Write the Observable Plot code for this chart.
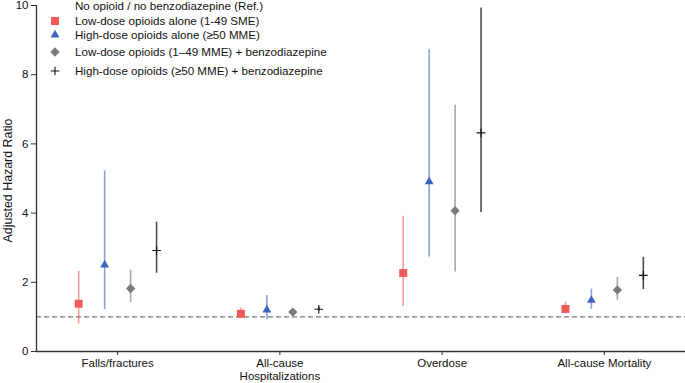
<!DOCTYPE html>
<html>
<head>
<meta charset="utf-8">
<script src="https://cdn.jsdelivr.net/npm/d3@7"></script>
<script src="https://cdn.jsdelivr.net/npm/@observablehq/plot@0.6"></script>
<style>
  html, body { margin: 0; padding: 0; background: #fff; }
  #wrap { position: relative; width: 685px; height: 383px; font-family: "Liberation Sans", Arial, sans-serif; }
  #legend { position: absolute; left: 0; top: 0; font-size: 11.6px; color: #111; }
  .row { position: absolute; white-space: nowrap; }
  .row svg { position: absolute; overflow: visible; }
</style>
</head>
<body>
<div id="wrap"></div>
<script>
const categories = ["Falls/fractures", "All-cause\nHospitalizations", "Overdose", "All-cause Mortality"];
const groups = [
  "Low-dose opioids alone (1-49 SME)",
  "High-dose opioids alone (\u226550 MME)",
  "Low-dose opioids (1\u201349 MME) + benzodiazepine",
  "High-dose opioids (\u226550 MME) + benzodiazepine"
];
const refLabel = "No opioid / no benzodiazepine (Ref.)";
const yTicks = [0, 2, 4, 6, 8, 10];
const yLabel = "Adjusted Hazard Ratio";

const lowAloneHR = [1.38, 1.09, 2.27, 1.23];
const lowAloneLo = [0.80, 0.95, 1.30, 1.09];
const lowAloneHi = [2.32, 1.26, 3.91, 1.43];

const highAloneHR = [2.50, 1.20, 4.91, 1.48];
const highAloneLo = [1.21, 0.92, 2.73, 1.22];
const highAloneHi = [5.22, 1.62, 8.73, 1.80];

const lowBenzoHR = [1.82, 1.14, 4.07, 1.78];
const lowBenzoLo = [1.41, 1.07, 2.30, 1.48];
const lowBenzoHi = [2.35, 1.21, 7.12, 2.14];

const highBenzoHR = [2.92, 1.22, 6.32, 2.20];
const highBenzoLo = [2.26, 1.16, 4.02, 1.79];
const highBenzoHi = [3.74, 1.28, 9.93, 2.72];

const refValue = 1;

// styles
const colors = ["#f25a5a", "#3f63c0", "#7a7a7a", "#111111"];
const ciOpacity = [0.6, 0.6, 0.65, 0.75];
const symbols = ["square", "triangle", "diamond2", "plus"];
const radii = [4.5, 3.3, 4.2, 2.9];

const series = [
  [lowAloneHR, lowAloneLo, lowAloneHi],
  [highAloneHR, highAloneLo, highAloneHi],
  [lowBenzoHR, lowBenzoLo, lowBenzoHi],
  [highBenzoHR, highBenzoLo, highBenzoHi]
];
const data = [];
series.forEach(([hr, lo, hi], g) => {
  categories.forEach((c, i) => {
    data.push({g, cat: i, x: i + (g - 1.5) * 0.16, hr: hr[i], lo: lo[i], hi: hi[i]});
  });
});

const marks = [
  Plot.ruleY([refValue], {stroke: "#777", strokeWidth: 1.2, strokeDasharray: "5,3"}),
];
for (let g = 0; g < 4; g++) {
  const d = data.filter(r => r.g === g);
  marks.push(Plot.ruleX(d, {x: "x", y1: "lo", y2: "hi", stroke: colors[g], strokeOpacity: ciOpacity[g], strokeWidth: 1.6}));
}
for (let g = 0; g < 4; g++) {
  const d = data.filter(r => r.g === g);
  if (symbols[g] === "plus") {
    marks.push(Plot.dot(d, {x: "x", y: "hr", symbol: symbols[g], r: radii[g], stroke: colors[g], strokeWidth: 1.1, fill: "none"}));
  } else {
    marks.push(Plot.dot(d, {x: "x", y: "hr", symbol: symbols[g], r: radii[g], fill: colors[g], stroke: "none"}));
  }
}
marks.push(
  Plot.ruleY([0], {stroke: "#333", strokeWidth: 1.3}),
  Plot.ruleX([-0.5], {y1: 0, y2: 10, stroke: "#333", strokeWidth: 1.3}),
  Plot.axisX({ticks: [0, 1, 2, 3], tickFormat: i => categories[i], tickSize: 4, tickPadding: 2, fontSize: 11.5, label: null, stroke: "#333", color: "#111", lineHeight: 1.13}),
  Plot.axisY({ticks: yTicks, tickSize: 5, tickPadding: 3, fontSize: 11.5, label: null, stroke: "#333", color: "#111"}),
  Plot.text([yLabel], {frameAnchor: "left", dx: -28, dy: 2, rotate: -90, textAnchor: "middle", fontSize: 12.4, fill: "#111"})
);

const chart = Plot.plot({
  width: 685,
  height: 383,
  marginLeft: 36,
  marginRight: 0,
  marginTop: 5,
  marginBottom: 32,
  x: {domain: [-0.5, 3.5]},
  y: {domain: [0, 10]},
  style: {fontFamily: "Liberation Sans, Arial, sans-serif", fontSize: "11px", background: "#fff"},
  marks
});

const wrap = document.getElementById("wrap");
wrap.appendChild(chart);

// legend
const legend = document.createElement("div");
legend.id = "legend";
const rowsY = [6, 21, 35, 52, 71];
const labels = [refLabel, ...groups];
labels.forEach((lab, k) => {
  const row = document.createElement("div");
  row.className = "row";
  row.style.left = "75px";
  row.style.top = (rowsY[k] - 7) + "px";
  row.style.lineHeight = "14px";
  row.textContent = lab;
  legend.appendChild(row);
  if (k > 0) {
    const g = k - 1;
    const symMap = {square: d3.symbolSquare, triangle: d3.symbolTriangle, diamond2: d3.symbolDiamond2, plus: d3.symbolPlus};
    const size = Math.PI * radii[g] * radii[g];
    const path = d3.symbol(symMap[symbols[g]], size)();
    const svg = d3.create("svg").attr("width", 1).attr("height", 1)
      .style("left", "-20px").style("top", "7px");
    const p = svg.append("path").attr("d", path);
    if (symbols[g] === "plus") p.attr("fill", "none").attr("stroke", colors[g]).attr("stroke-width", 1.1);
    else p.attr("fill", colors[g]);
    row.appendChild(svg.node());
  }
});
wrap.appendChild(legend);
</script>
</body>
</html>
